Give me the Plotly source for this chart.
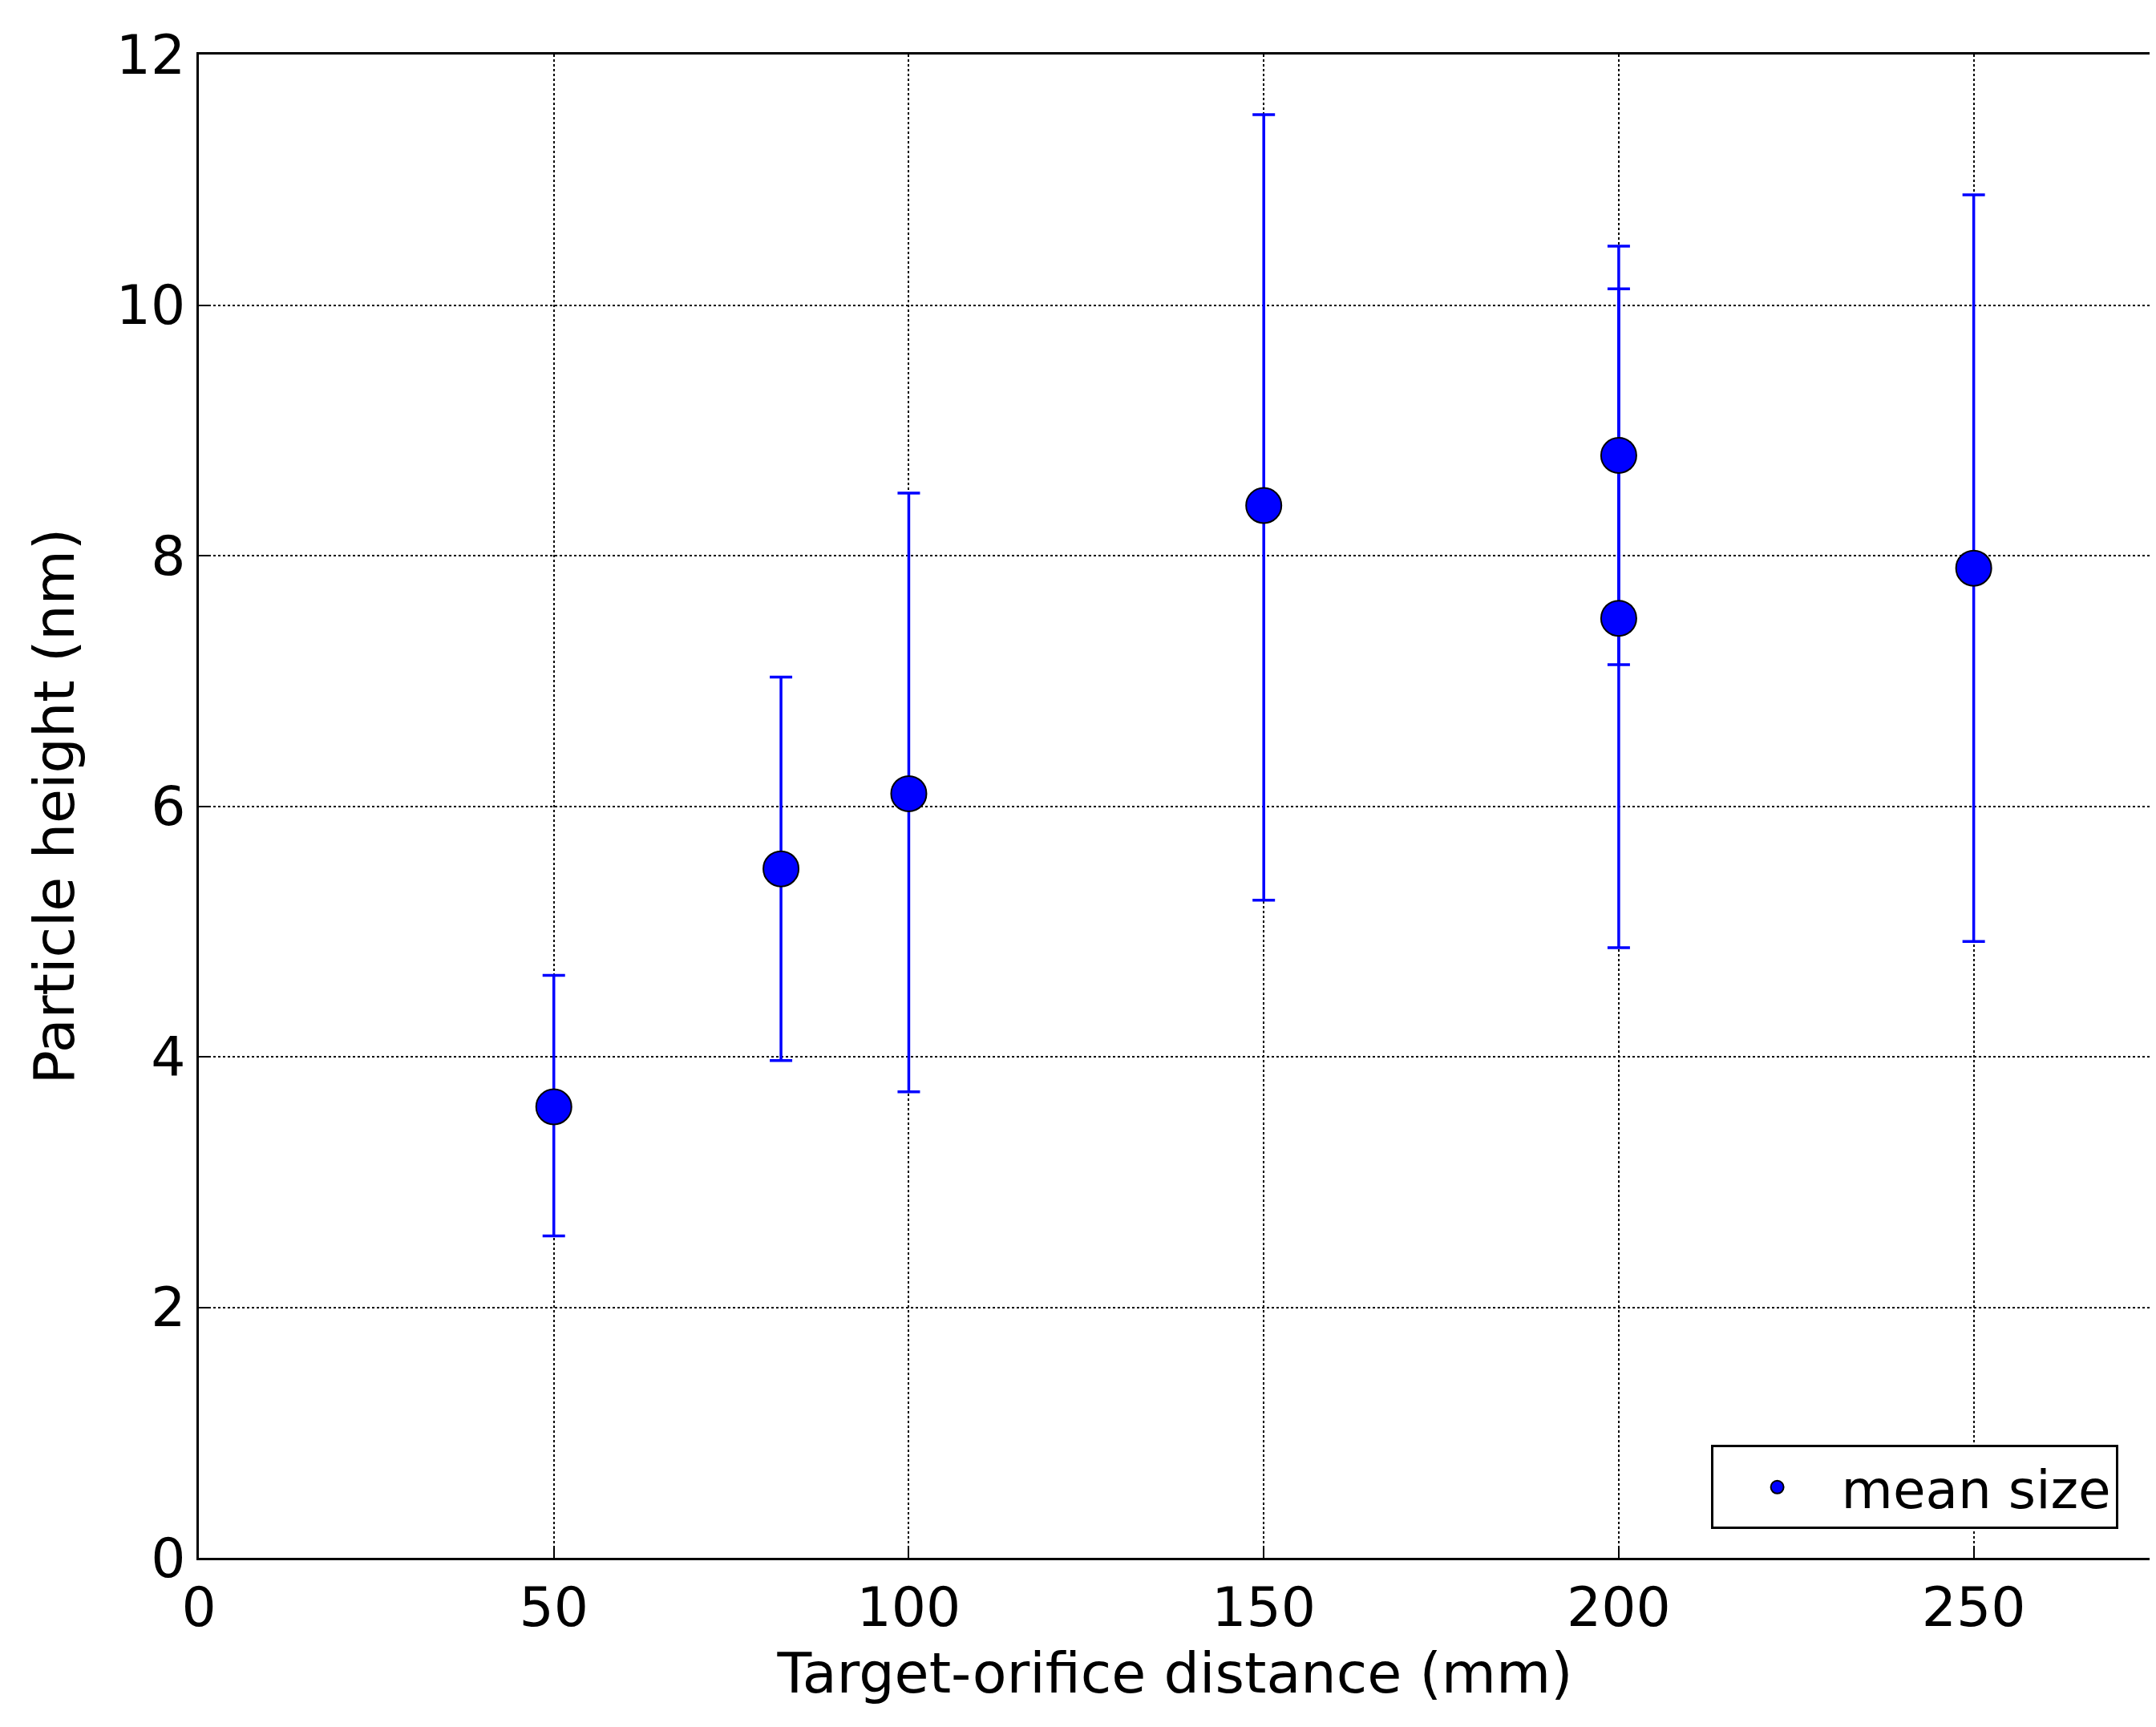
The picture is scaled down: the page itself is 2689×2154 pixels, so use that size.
import plotly.graph_objects as go

x = [50, 82, 100, 150, 200, 200, 250]
y = [3.6, 5.5, 6.1, 8.4, 8.8, 7.5, 7.9]
upper = [4.65, 7.03, 8.5, 11.52, 10.47, 10.13, 10.88]
lower = [2.57, 3.97, 3.72, 5.25, 7.13, 4.87, 4.92]

err_plus = [u - v for u, v in zip(upper, y)]
err_minus = [v - l for v, l in zip(y, lower)]

fig = go.Figure(go.Scatter(
    x=x, y=y, mode="markers", name="mean size",
    marker=dict(color="#0000ff", size=44, line=dict(color="black", width=2)),
    error_y=dict(type="data", symmetric=False, array=err_plus, arrayminus=err_minus,
                 color="#0000ff", thickness=3.5, width=14),
))

axis = dict(showline=True, mirror=True, linecolor="black", linewidth=3,
            ticks="inside", ticklen=14, tickwidth=2, tickcolor="black",
            showgrid=True, gridcolor="black", griddash="dot", gridwidth=2,
            zeroline=False, tickfont=dict(size=68, color="black"))

fig.update_layout(
    width=2689, height=2154,
    margin=dict(l=240, r=14, t=60, b=219),
    paper_bgcolor="white", plot_bgcolor="white",
    font=dict(family="DejaVu Sans", color="black"),
    xaxis=dict(range=[0, 275], dtick=50, title=dict(text="Target-orifice distance (mm)", font=dict(size=70), standoff=20), **axis),
    yaxis=dict(range=[0, 12], dtick=2, title=dict(text="Particle height (nm)", font=dict(size=70), standoff=30), **axis),
    showlegend=True,
    legend=dict(x=0.983, y=0.019, xanchor="right", yanchor="bottom",
                bordercolor="black", borderwidth=3, bgcolor="white",
                font=dict(size=66), itemsizing="trace", itemwidth=150),
)

fig.write_html("out.html")
